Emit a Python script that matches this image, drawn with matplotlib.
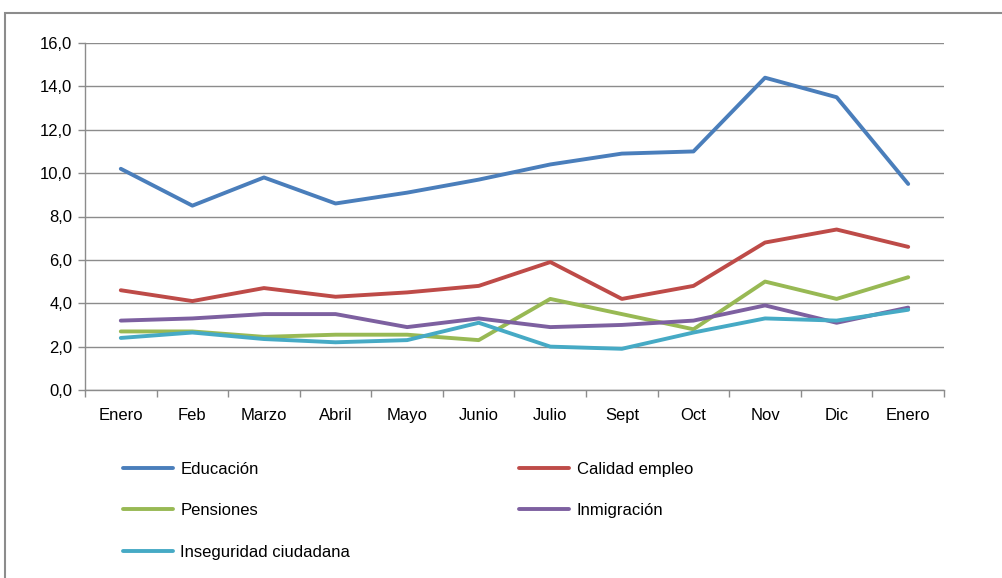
import matplotlib
matplotlib.use("Agg")
import matplotlib.pyplot as plt
from matplotlib.patches import Rectangle
from matplotlib.ticker import FixedLocator, FuncFormatter

months = ["Enero", "Feb", "Marzo", "Abril", "Mayo", "Junio", "Julio", "Sept", "Oct", "Nov", "Dic", "Enero"]
educacion = [10.2, 8.5, 9.8, 8.6, 9.1, 9.7, 10.4, 10.9, 11.0, 14.4, 13.5, 9.5]
calidad_empleo = [4.6, 4.1, 4.7, 4.3, 4.5, 4.8, 5.9, 4.2, 4.8, 6.8, 7.4, 6.6]
pensiones = [2.7, 2.7, 2.45, 2.55, 2.55, 2.3, 4.2, 3.5, 2.8, 5.0, 4.2, 5.2]
inmigracion = [3.2, 3.3, 3.5, 3.5, 2.9, 3.3, 2.9, 3.0, 3.2, 3.9, 3.1, 3.8]
inseguridad = [2.4, 2.65, 2.35, 2.2, 2.3, 3.1, 2.0, 1.9, 2.65, 3.3, 3.2, 3.7]

series = [
    ("Educación", educacion, "#4A7EBB"),
    ("Calidad empleo", calidad_empleo, "#BE4B48"),
    ("Pensiones", pensiones, "#98B954"),
    ("Inmigración", inmigracion, "#7D60A0"),
    ("Inseguridad ciudadana", inseguridad, "#46AAC5"),
]

plt.rcParams['font.family'] = ['Liberation Sans', 'DejaVu Sans']

W, H = 1003, 578
fig = plt.figure(figsize=(W / 100, H / 100), dpi=100)

# outer chart border
fig.patches.append(Rectangle((5 / W, 1 - 590 / H), 1010 / W, 577 / H,
                             transform=fig.transFigure, fill=False,
                             edgecolor="#8c8c8c", linewidth=1.5))

ax = fig.add_axes([85 / W, 1 - 390 / H, (944 - 85) / W, (390 - 43) / H])
x = list(range(len(months)))
lines = {}
for name, vals, col in series:
    ln, = ax.plot(x, vals, color=col, linewidth=2.8, solid_capstyle="round",
                  solid_joinstyle="round", label=name)
    lines[name] = ln

ax.set_xlim(-0.5, len(months) - 0.5)
ax.set_ylim(0, 16)
ax.yaxis.set_major_locator(FixedLocator([0, 2, 4, 6, 8, 10, 12, 14, 16]))
ax.yaxis.set_major_formatter(FuncFormatter(lambda v, p: f"{v:.1f}".replace(".", ",")))
ax.yaxis.grid(True, color="#8c8c8c", linewidth=1)
ax.set_axisbelow(True)

ax.set_xticks(x)
ax.set_xticklabels(months)
ax.set_xticks([i - 0.5 for i in range(len(months) + 1)], minor=True)
ax.tick_params(axis="x", which="major", length=0, pad=13, labelsize=12)
ax.tick_params(axis="x", which="minor", length=5, color="#8c8c8c", width=1)
ax.tick_params(axis="y", length=5, color="#8c8c8c", width=1, labelsize=12, pad=4)

for s in ["top", "right"]:
    ax.spines[s].set_visible(False)
for s in ["left", "bottom"]:
    ax.spines[s].set_color("#8c8c8c")
    ax.spines[s].set_linewidth(1)

order = ["Educación", "Pensiones", "Inseguridad ciudadana", "Calidad empleo", "Inmigración"]
fig.legend([lines[n] for n in order], order, ncol=2, loc="upper left",
           bbox_to_anchor=(116 / W, 1 - 455 / H), frameon=False, fontsize=12,
           handlelength=3.0, handletextpad=0.45, columnspacing=10.15,
           labelspacing=1.6, borderaxespad=0)

fig.savefig("out.png", dpi=100)
